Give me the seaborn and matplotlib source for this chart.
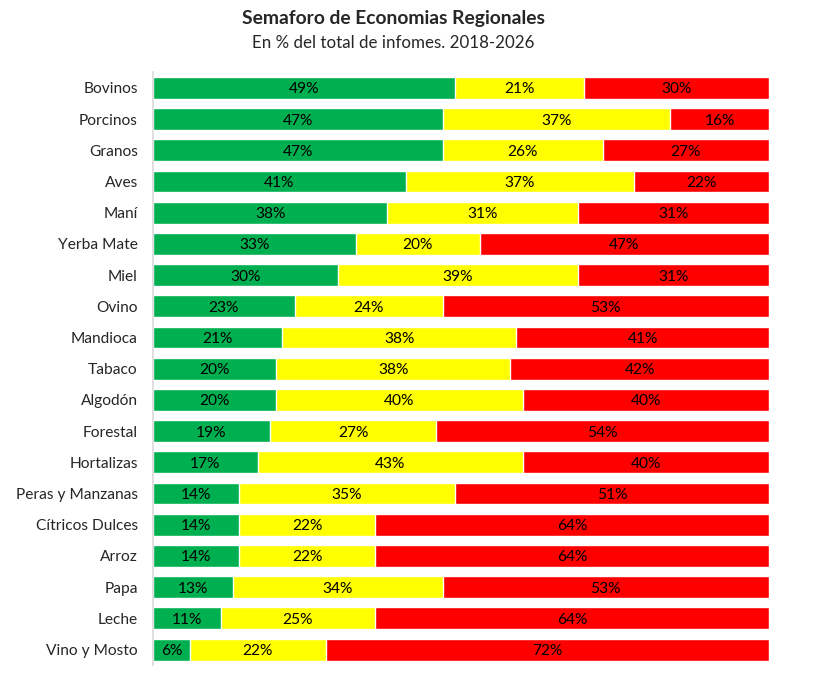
import matplotlib
matplotlib.use("Agg")
import matplotlib.pyplot as plt
import pandas as pd
import seaborn as sns

#data
#---------------------------------
productos = ["Bovinos", "Porcinos", "Granos", "Aves", "Maní", "Yerba Mate", "Miel",
             "Ovino", "Mandioca", "Tabaco", "Algodón", "Forestal", "Hortalizas",
             "Peras y Manzanas", "Cítricos Dulces", "Arroz", "Papa", "Leche",
             "Vino y Mosto"]
verde = [49, 47, 47, 41, 38, 33, 30, 23, 21, 20, 20, 19, 17, 14, 14, 14, 13, 11, 6]
amarillo = [21, 37, 26, 37, 31, 20, 39, 24, 38, 38, 40, 27, 43, 35, 22, 22, 34, 25, 22]
rojo = [30, 16, 27, 22, 31, 47, 31, 53, 41, 42, 40, 54, 40, 51, 64, 64, 53, 64, 72]

df = pd.DataFrame({"producto": productos, "verde": verde,
                   "amarillo": amarillo, "rojo": rojo})
df["hasta_amarillo"] = df["verde"] + df["amarillo"]
df["total"] = df["hasta_amarillo"] + df["rojo"]

sns.set_style("white")
plt.rcParams["font.family"] = ["Lato", "DejaVu Sans"]

fig = plt.figure(figsize=(8.33, 6.76), dpi=100)
ax = fig.add_axes([0.1837, 0.016, 0.7395, 0.877])

#stacked bars: draw cumulative widths back to front
sns.barplot(data=df, y="producto", x="total", color="#FF0000", width=0.7,
            saturation=1, ax=ax, orient="h")
sns.barplot(data=df, y="producto", x="hasta_amarillo", color="#FFFF00", width=0.7,
            saturation=1, ax=ax, orient="h")
sns.barplot(data=df, y="producto", x="verde", color="#00B050", width=0.7,
            saturation=1, ax=ax, orient="h")

#value labels in the middle of each segment
for i, row in df.iterrows():
    ax.text(row["verde"] / 2, i, f"{row['verde']}%", ha="center",
            va="center_baseline", fontsize=11.2, color="black")
    ax.text(row["verde"] + row["amarillo"] / 2, i, f"{row['amarillo']}%",
            ha="center", va="center_baseline", fontsize=11.2, color="black")
    ax.text(row["hasta_amarillo"] + row["rojo"] / 2, i, f"{row['rojo']}%",
            ha="center", va="center_baseline", fontsize=11.2, color="black")

ax.set_xlim(0, 100)
ax.set_ylim(len(productos) - 0.5, -0.5)
ax.set_xlabel("")
ax.set_ylabel("")
ax.set_xticks([])
ax.tick_params(axis="y", length=0, labelsize=11.2, pad=11)
for side in ["top", "right", "bottom"]:
    ax.spines[side].set_visible(False)
ax.spines["left"].set_color("#D9D9D9")
ax.spines["left"].set_linewidth(1.2)

fig.text(0.472, 0.973, "Semaforo de Economias Regionales", ha="center", va="center",
         fontsize=13.9, fontweight="bold")
fig.text(0.472, 0.937, "En % del total de infomes. 2018-2026", ha="center",
         va="center", fontsize=12.2)

fig.savefig("out.png", dpi=100)
